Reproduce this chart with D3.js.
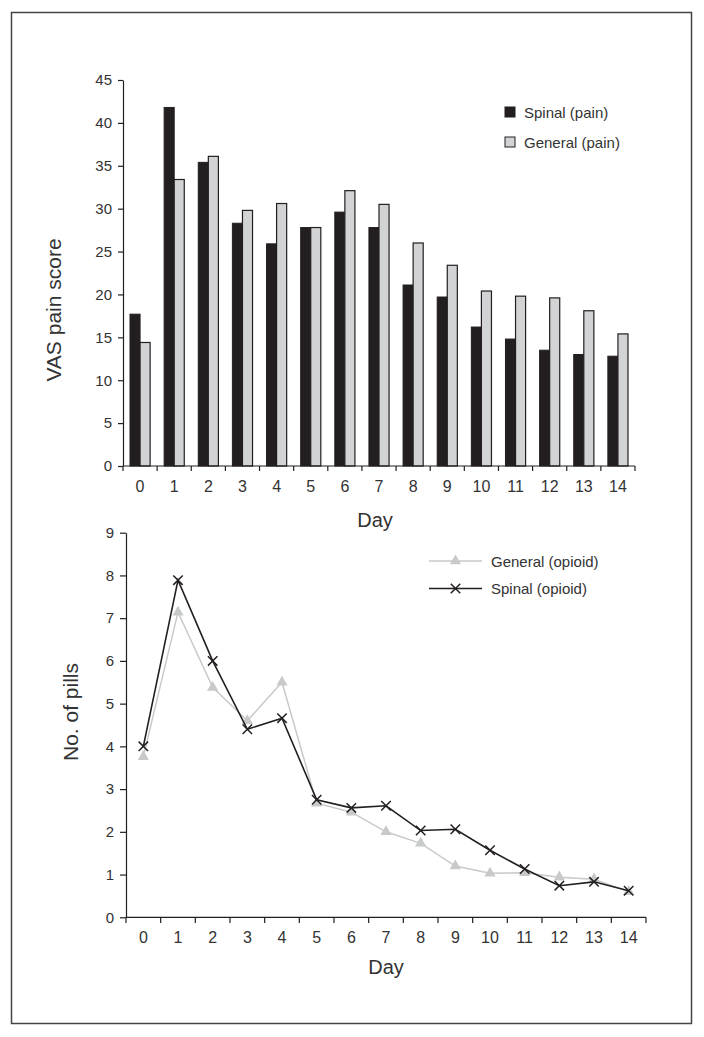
<!DOCTYPE html>
<html>
<head>
<meta charset="utf-8">
<script src="https://cdn.jsdelivr.net/npm/d3@7"></script>
<style>
  html, body { margin: 0; padding: 0; background: #fff; }
  svg { display: block; }
  text { font-family: "Liberation Sans", Arial, sans-serif; fill: #333; }
</style>
</head>
<body>
<script>
const days = ["0","1","2","3","4","5","6","7","8","9","10","11","12","13","14"];
const spinalPain  = [17.7, 41.8, 35.4, 28.3, 25.9, 27.8, 29.6, 27.8, 21.1, 19.7, 16.2, 14.8, 13.5, 13.0, 12.8];
const generalPain = [14.4, 33.4, 36.1, 29.8, 30.6, 27.8, 32.1, 30.5, 26.0, 23.4, 20.4, 19.8, 19.6, 18.1, 15.4];
const spinalOpioid  = [4.0, 7.89, 6.0, 4.4, 4.66, 2.75, 2.56, 2.61, 2.03, 2.06, 1.57, 1.13, 0.74, 0.83, 0.62];
const generalOpioid = [3.76, 7.14, 5.38, 4.6, 5.5, 2.67, 2.46, 2.0, 1.73, 1.2, 1.03, 1.04, 0.94, 0.89, 0.6];
const painTicks = [0,5,10,15,20,25,30,35,40,45];
const pillTicks = [0,1,2,3,4,5,6,7,8,9];

const W = 704, H = 1037;
const svg = d3.select("body").append("svg").attr("width", W).attr("height", H);

// frame
svg.append("rect").attr("x", 11.5).attr("y", 12.5).attr("width", 680).attr("height", 1011)
  .attr("fill", "none").attr("stroke", "#444").attr("stroke-width", 1.5);

const axisColor = "#231f20";

function styleAxis(g) {
  g.selectAll("path.domain").attr("stroke", axisColor).attr("stroke-width", 1.2);
  g.selectAll(".tick line").attr("stroke", axisColor).attr("stroke-width", 1.2);
  g.selectAll("text").attr("font-family", "Liberation Sans, Arial, sans-serif").attr("fill", "#333");
}

// ---------- Top chart: bars ----------
const x1 = d3.scaleBand().domain(days).range([123, 635]).padding(0);
const y1 = d3.scaleLinear().domain([0, 45]).range([466, 80]);
const sub = d3.scaleBand().domain(["spinal", "general"]).range([7, x1.bandwidth() - 7]).padding(0);

const gTop = svg.append("g");
const barData = days.map((d, i) => ({ day: d, spinal: spinalPain[i], general: generalPain[i] }));
const groups = gTop.selectAll("g.bar").data(barData).join("g").attr("transform", d => `translate(${x1(d.day)},0)`);
groups.append("rect")
  .attr("x", sub("spinal")).attr("width", sub.bandwidth())
  .attr("y", d => y1(d.spinal)).attr("height", d => y1(0) - y1(d.spinal))
  .attr("fill", "#231f20").attr("stroke", "#231f20").attr("stroke-width", 1);
groups.append("rect")
  .attr("x", sub("general")).attr("width", sub.bandwidth())
  .attr("y", d => y1(d.general)).attr("height", d => y1(0) - y1(d.general))
  .attr("fill", "#d1d3d4").attr("stroke", "#231f20").attr("stroke-width", 1.2);

// y axis
const gy1 = gTop.append("g").attr("transform", "translate(123,0)")
  .call(d3.axisLeft(y1).tickValues(painTicks).tickSize(5).tickPadding(6).tickSizeOuter(0));
gy1.selectAll("text").attr("font-size", 15);
styleAxis(gy1);

// x axis: labels at band centres, ticks at band boundaries
const gx1 = gTop.append("g").attr("transform", "translate(0,466)")
  .call(d3.axisBottom(x1).tickSize(0).tickPadding(15).tickSizeOuter(0));
gx1.selectAll("text").attr("font-size", 16);
styleAxis(gx1);
gx1.selectAll("path.domain").attr("d", `M${x1.range()[0]},0H${x1.range()[1]}`);
const bounds1 = days.map(d => x1(d)).concat([x1.range()[1]]);
gTop.append("g").selectAll("line").data(bounds1).join("line")
  .attr("x1", d => d).attr("x2", d => d).attr("y1", 466).attr("y2", 471)
  .attr("stroke", axisColor).attr("stroke-width", 1.2);

gTop.append("text").attr("x", (x1.range()[0] + x1.range()[1]) / 2 - 4).attr("y", 527)
  .attr("text-anchor", "middle").attr("font-size", 20).attr("fill", "#222").text("Day");
gTop.append("text").attr("transform", "translate(61,310) rotate(-90)")
  .attr("text-anchor", "middle").attr("font-size", 21).attr("fill", "#222").text("VAS pain score");

// legend top
const lgTop = [{ name: "Spinal (pain)", fill: "#231f20" }, { name: "General (pain)", fill: "#d1d3d4" }];
const lt = gTop.append("g").selectAll("g").data(lgTop).join("g")
  .attr("transform", (d, i) => `translate(505,${107 + i * 30})`);
lt.append("rect").attr("x", 0).attr("y", 0).attr("width", 10).attr("height", 10)
  .attr("fill", d => d.fill).attr("stroke", "#231f20").attr("stroke-width", 1);
lt.append("text").attr("x", 19).attr("y", 10.5).attr("font-size", 15).text(d => d.name);

// ---------- Bottom chart: lines ----------
const x2 = d3.scaleBand().domain(days).range([126, 646]).padding(0);
const y2 = d3.scaleLinear().domain([0, 9]).range([917.3, 532.7]);
const cx = d => x2(d) + x2.bandwidth() / 2;

const gBot = svg.append("g");
const gy2 = gBot.append("g").attr("transform", "translate(126,0)")
  .call(d3.axisLeft(y2).tickValues(pillTicks).tickSize(6).tickPadding(6).tickSizeOuter(0));
gy2.selectAll("text").attr("font-size", 15);
styleAxis(gy2);

const gx2 = gBot.append("g").attr("transform", "translate(0,917.3)")
  .call(d3.axisBottom(x2).tickSize(0).tickPadding(14).tickSizeOuter(0));
gx2.selectAll("text").attr("font-size", 16);
styleAxis(gx2);
gx2.selectAll("path.domain").attr("d", `M${x2.range()[0]},0H${x2.range()[1]}`);
const bounds2 = days.map(d => x2(d)).concat([x2.range()[1]]);
gBot.append("g").selectAll("line").data(bounds2).join("line")
  .attr("x1", d => d).attr("x2", d => d).attr("y1", 917.3).attr("y2", 923)
  .attr("stroke", axisColor).attr("stroke-width", 1.2);

gBot.append("text").attr("x", (x2.range()[0] + x2.range()[1]) / 2).attr("y", 974)
  .attr("text-anchor", "middle").attr("font-size", 20).attr("fill", "#222").text("Day");
gBot.append("text").attr("transform", "translate(78,712) rotate(-90)")
  .attr("text-anchor", "middle").attr("font-size", 21).attr("fill", "#222").text("No. of pills");

const line = d3.line().x(d => cx(d.day)).y(d => y2(d.v));
const genData = days.map((d, i) => ({ day: d, v: generalOpioid[i] }));
const spiData = days.map((d, i) => ({ day: d, v: spinalOpioid[i] }));

const grayC = "#c8c9ca";
gBot.append("path").datum(genData).attr("d", line).attr("fill", "none")
  .attr("stroke", grayC).attr("stroke-width", 1.5);
const tri = d3.symbol().type(d3.symbolTriangle).size(55);
gBot.append("g").selectAll("path").data(genData).join("path")
  .attr("d", tri).attr("transform", d => `translate(${cx(d.day)},${y2(d.v)})`).attr("fill", grayC);

gBot.append("path").datum(spiData).attr("d", line).attr("fill", "none")
  .attr("stroke", "#231f20").attr("stroke-width", 1.6);
const cross = d3.symbol().type(d3.symbolX).size(60);
gBot.append("g").selectAll("path").data(spiData).join("path")
  .attr("d", cross).attr("transform", d => `translate(${cx(d.day)},${y2(d.v)})`)
  .attr("fill", "none").attr("stroke", "#231f20").attr("stroke-width", 1.5);

// legend bottom
const lgBot = [{ name: "General (opioid)", color: grayC, sym: tri, fill: grayC, stroke: "none" },
               { name: "Spinal (opioid)", color: "#231f20", sym: cross, fill: "none", stroke: "#231f20" }];
const lb = gBot.append("g").selectAll("g").data(lgBot).join("g")
  .attr("transform", (d, i) => `translate(429,${561 + i * 27.5})`);
lb.append("line").attr("x1", 0).attr("x2", 53).attr("y1", 0).attr("y2", 0)
  .attr("stroke", d => d.color).attr("stroke-width", 1.5);
lb.append("path").attr("d", d => d.sym()).attr("transform", "translate(26.5,0)")
  .attr("fill", d => d.fill).attr("stroke", d => d.stroke).attr("stroke-width", 1.5);
lb.append("text").attr("x", 62).attr("y", 5.5).attr("font-size", 15).text(d => d.name);
</script>
</body>
</html>
